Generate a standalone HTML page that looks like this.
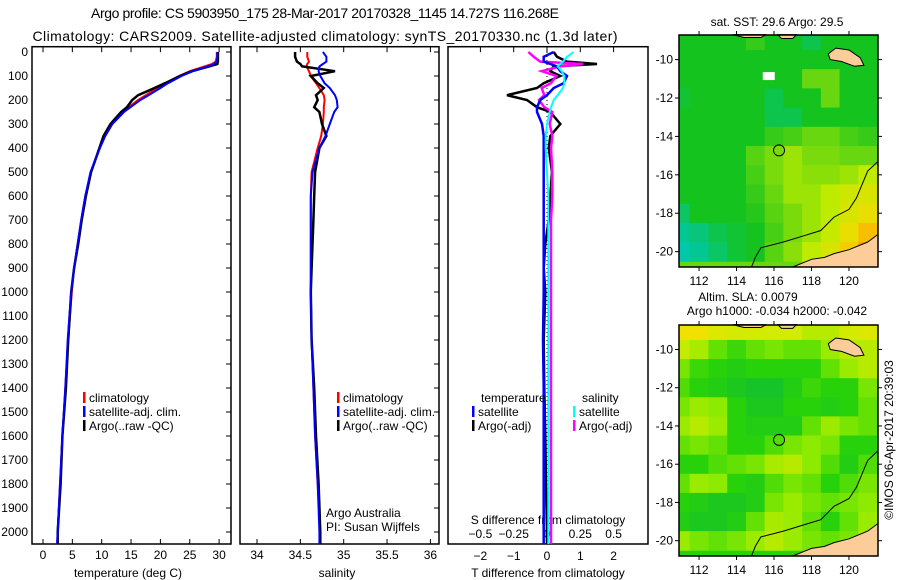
<!DOCTYPE html>
<html><head><meta charset="utf-8">
<style>
html,body{margin:0;padding:0;background:#fff;}
svg{display:block;font-family:"Liberation Sans",sans-serif;}
text{fill:#000;}
</style></head>
<body>
<svg id="fig" width="900" height="580" viewBox="0 0 900 580" xmlns="http://www.w3.org/2000/svg">
<text x="325" y="18" font-size="14" text-anchor="middle" textLength="468">Argo profile: CS 5903950_175 28-Mar-2017 20170328_1145 14.727S 116.268E</text>
<text x="325" y="41" font-size="14" text-anchor="middle" textLength="585">Climatology: CARS2009. Satellite-adjusted climatology: synTS_20170330.nc (1.3d later)</text>
<g id="g1"></g>
<g id="g2"></g>
<g id="g3"></g>
<g id="m1"></g>
<g id="m2"></g>
<text x="0" y="0" font-size="12" text-anchor="middle" transform="translate(893,440) rotate(-90)">©IMOS 06-Apr-2017 20:39:03</text>
</svg>
<script>
// ---- profile data ----
const depths = [0,20,40,50,60,80,100,130,150,180,200,230,250,300,350,400,500,600,700,800,900,1000,1200,1400,1600,1800,2000,2050];
const tempClim = [29.6,29.6,29.4,28.8,27.5,25,23.2,21,19.5,17.5,16.2,14.6,13.6,11.8,10.6,9.7,8.2,7.2,6.5,5.9,5.3,4.9,4.3,3.8,3.3,2.9,2.5,2.4];
const tempSat  = [29.7,29.7,29.6,29.2,28,25.5,23.6,21.3,20,18,16.6,14.9,13.8,11.8,10.6,9.7,8.1,7.2,6.5,5.9,5.3,4.8,4.2,3.8,3.3,2.9,2.5,2.4];
const tempArgo = [29.8,29.8,29.8,29.7,28.3,25.4,23.3,20.8,19,16.2,15.2,14.3,13.3,11.5,10.3,9.6,8.2,7.3,6.6,6.0,5.3,4.8,4.3,3.9,3.3,3.0,2.5,2.5];
const salClim = [34.58,34.58,34.6,34.58,34.57,34.6,34.62,34.68,34.72,34.77,34.78,34.77,34.77,34.76,34.74,34.70,34.63,34.62,34.62,34.62,34.62,34.62,34.63,34.65,34.67,34.7,34.73,34.73];
const salSat  = [34.76,34.8,34.8,34.76,34.72,34.71,34.73,34.78,34.84,34.9,34.92,34.93,34.89,34.84,34.79,34.72,34.64,34.62,34.62,34.62,34.62,34.62,34.63,34.65,34.67,34.7,34.72,34.72];
const salArgo = [34.44,34.44,34.46,34.5,34.52,34.9,34.62,34.7,34.77,34.68,34.7,34.66,34.72,34.75,34.8,34.72,34.67,34.66,34.65,34.64,34.63,34.62,34.63,34.66,34.68,34.71,34.73,34.73];
const tDiffSat  = [0.2,-0.1,-0.1,0.1,0.3,0.4,0.6,0.5,0.2,0,-0.2,-0.3,-0.3,-0.15,-0.1,-0.1,-0.1,-0.1,-0.1,-0.1,-0.1,-0.1,-0.12,-0.1,-0.1,-0.1,-0.1,-0.1];
const tDiffArgo = [0.2,0.3,0.6,1.5,0.2,0.1,0.4,-0.1,-0.3,-1.2,-0.6,-0.3,0.1,0.4,0.1,0.05,0.15,0.1,0.05,-0.05,-0.1,-0.05,-0.1,-0.08,-0.05,-0.03,0,0];
const sDiffSat  = [0.2,0.15,0.12,0.1,0.08,0.11,0.13,0.13,0.12,0.08,0.05,0.03,0.02,0,-0.01,-0.01,0.0,0.01,0.01,0.01,0.01,0.01,0.01,0.01,0.01,0.01,0.01,0.01];
const sDiffArgo = [-0.14,-0.1,-0.05,0.27,0.1,-0.04,0.07,0.03,-0.04,-0.02,-0.06,-0.02,0.04,0.02,0.04,0.03,0.04,0.04,0.03,0.03,0.03,0.03,0.03,0.03,0.03,0.03,0.03,0.03];
const depthTicks = [0,100,200,300,400,500,600,700,800,900,1000,1100,1200,1300,1400,1500,1600,1700,1800,1900,2000];
const tempTicks = [0,5,10,15,20,25,30];
const salTicks = [34,34.5,35,35.5,36];
const tdTicks = [-2,-1,0,1,2];
const sdTicks = [-0.5,-0.25,0,0.25,0.5];
// ---- map data (1-degree cells) ----
const mapLons = [111,112,113,114,115,116,117,118,119,120,121];
const mapLats = [-8.7,-9.5,-10.5,-11.5,-12.5,-13.5,-14.5,-15.5,-16.5,-17.5,-18.5,-19.5,-20.5];
const sstGrid = [
[1,1,1,1,1.2,1,1,0.8,1,1,1],
[1,1,1,1,1,1,1,1,1,1,1],
[1,1,1,1,1,1,1,1.5,1.5,1,1],
[0.9,1,1,1,1,0.8,1,1,1.5,1,1],
[1,1,1,1,1,0.8,0.8,1,1,1,1],
[1,1,1,1,1,1.2,1.3,1.5,1.5,1.3,1.2],
[1,1,1,1,1.4,1.6,1.8,1.6,1.6,1.5,1.5],
[1,1,1,1,1.3,1.6,1.8,1.7,1.7,1.8,2],
[1,1,1,1,1.2,1.5,1.8,1.8,2,2.2,2.3],
[0.7,1,1,1,1.1,1.4,1.6,1.8,2,2.3,2.5],
[0.5,0.6,0.8,0.9,1,1.3,1.6,1.8,2.1,2.5,2.8],
[0.4,0.5,0.7,0.9,1,1.4,1.7,2,2.3,2.7,3]];
const slaGrid = [
[2.8,2.8,2.6,2.5,2.5,2.5,2.5,2.3,2.3,2.5,2.6],
[2.4,2.2,1.8,1.6,1.8,1.9,1.8,1.8,2.1,2.3,2.3],
[1.9,1.6,1.5,1.4,1.5,1.5,1.5,1.5,1.8,2.1,2.3],
[1.7,1.5,1.4,1.3,1.2,1.2,1.4,1.6,1.5,1.5,1.9],
[1.9,2.1,2,1.5,1.3,1.3,1.5,1.5,1.4,1.5,1.8],
[2.1,2.3,2.1,1.5,1.4,1.4,1.4,1.8,2.1,1.9,1.8],
[1.8,1.9,1.8,1.5,1.5,1.7,1.9,2,1.9,1.5,1.5],
[1.5,1.5,1.7,1.8,1.9,2.2,2.3,2,1.7,1.4,1.7],
[1.8,2.1,2,1.5,1.4,1.7,1.9,1.8,1.5,1.7,1.9],
[1.5,1.4,1.3,1.3,1.4,1.9,2.1,1.9,1.8,1.9,2],
[1.4,1.3,1.3,1.4,1.8,2.2,2.1,1.8,1.5,1.8,2.1],
[2.1,1.9,1.8,1.9,2.1,2.3,2.1,1.9,1.8,1.9,2.3]];
const lonTicks = [112,114,116,118,120];
const latTicks = [-10,-12,-14,-16,-18,-20];
const argoPos = [116.268,-14.727];
const landAus = [[121.55,-19.1],[121,-19.5],[120,-19.9],[119.2,-20.1],[118.7,-20.3],[118,-20.4],[117.5,-20.6],[117,-20.8],[121.55,-20.8]];
const landSumba = [[118.9,-9.7],[119.3,-9.4],[120,-9.5],[120.6,-9.9],[120.8,-10.3],[120.3,-10.35],[119.6,-10.1],[119,-10.0]];
const landTop1 = [[113.8,-8.7],[115.6,-8.7],[115.3,-8.85],[114.4,-8.85]];
const landTop2 = [[116.2,-8.7],[117.2,-8.7],[117,-8.9],[116.4,-8.9]];
const contour = [[114.8,-20.8],[115,-20.3],[115.3,-19.8],[116.5,-19.5],[117.5,-19.2],[118.5,-18.9],[119.2,-18.2],[120,-17.8],[120.4,-17.2],[120.7,-16.5],[121,-15.8],[121.55,-15.3]];

const NS="http://www.w3.org/2000/svg";
function mk(parent,tag,attrs,txt){const e=document.createElementNS(NS,tag);for(const k in attrs)e.setAttribute(k,attrs[k]);if(txt!==undefined)e.textContent=txt;parent.appendChild(e);return e;}
const yD = d => 52 + d*0.24;

function axesBox(g,x0,x1,name){
  const r=mk(g,'rect',{x:x0,y:yD(-20)-0.5,width:x1-x0,height:yD(2050)-yD(-20)+0.5,fill:'none',stroke:'#000','stroke-width':1.5});
  
  
  depthTicks.forEach(d=>{mk(g,'line',{x1:x1-5,x2:x1,y1:yD(d),y2:yD(d),stroke:'#000'});});
}
function profile(g,xs,xf,color,name,w){
  const pts=depths.map((d,i)=>xf(xs[i]).toFixed(1)+','+yD(d).toFixed(1)).join(' ');
  const p=mk(g,'polyline',{points:pts,fill:'none',stroke:color,'stroke-width':w||2});
  
  
}
function legend(g,x,y,items){
  items.forEach((it,i)=>{
    mk(g,'rect',{x:x,y:y+i*14-6,width:2.5,height:11,fill:it[1]});
    const t=mk(g,'text',{x:x+6,y:y+i*14+4,'font-size':12},it[0]);
    
    
  });
}
// Panel 1 temperature
const g1=document.getElementById('g1');
const xT = t => 43 + t*5.87;
axesBox(g1,32,231,'temperature');
depthTicks.forEach(d=>{const t=mk(g1,'text',{x:28,y:yD(d)+4,'font-size':12,'text-anchor':'end'},String(d));
  
  });
tempTicks.forEach(v=>{mk(g1,'line',{x1:xT(v),x2:xT(v),y1:yD(-20),y2:yD(-20)+5,stroke:'#000'});
  mk(g1,'line',{x1:xT(v),x2:xT(v),y1:yD(2050),y2:yD(2050)-5,stroke:'#000'});
  const t=mk(g1,'text',{x:xT(v),y:559,'font-size':12,'text-anchor':'middle'},String(v));
  
  });
mk(g1,'text',{x:128,y:577,'font-size':12,'text-anchor':'middle'},'temperature (deg C)');
profile(g1,tempClim,xT,'#f00','temperature-climatology-line');
profile(g1,tempArgo,xT,'#000','temperature-argo-line',2.5);
profile(g1,tempSat,xT,'#00f','temperature-satellite-line');
legend(g1,83,398,[['climatology','#f00'],['satellite-adj. clim.','#00f'],['Argo(..raw -QC)','#000']]);
// Panel 2 salinity
const g2=document.getElementById('g2');
const xS = s => 257 + (s-34)*86.7;
axesBox(g2,240,439,'salinity');
salTicks.forEach(v=>{mk(g2,'line',{x1:xS(v),x2:xS(v),y1:yD(-20),y2:yD(-20)+5,stroke:'#000'});
  mk(g2,'line',{x1:xS(v),x2:xS(v),y1:yD(2050),y2:yD(2050)-5,stroke:'#000'});
  const t=mk(g2,'text',{x:xS(v),y:559,'font-size':12,'text-anchor':'middle'},String(v));
  
  });
mk(g2,'text',{x:337,y:577,'font-size':12,'text-anchor':'middle'},'salinity');
profile(g2,salClim,xS,'#f00','salinity-climatology-line');
profile(g2,salArgo,xS,'#000','salinity-argo-line',2.5);
profile(g2,salSat,xS,'#00f','salinity-satellite-line');
legend(g2,337,398,[['climatology','#f00'],['satellite-adj. clim.','#00f'],['Argo(..raw -QC)','#000']]);
mk(g2,'text',{x:326,y:517,'font-size':12},'Argo Australia');
mk(g2,'text',{x:326,y:531,'font-size':12},'PI: Susan Wijffels');
// Panel 3 differences
const g3=document.getElementById('g3');
const xTD = v => 547 + v*33.3;
const xSD = v => 547 + v*133.2;
const r3=mk(g3,'rect',{x:448,y:yD(-20)-0.5,width:200,height:yD(2050)-yD(-20)+0.5,fill:'none',stroke:'#000','stroke-width':1.5});


tdTicks.forEach(v=>{mk(g3,'line',{x1:xTD(v),x2:xTD(v),y1:yD(-20),y2:yD(-20)+5,stroke:'#000'});
  const t=mk(g3,'text',{x:xTD(v),y:560,'font-size':12,'text-anchor':'middle'},v<0?'\u2212'+(-v):String(v));
  
  });
sdTicks.forEach(v=>{const t=mk(g3,'text',{x:xSD(v),y:538,'font-size':12,'text-anchor':'middle'},v<0?'\u2212'+(-v):String(v));
  
  });
mk(g3,'text',{x:548,y:524,'font-size':12,'text-anchor':'middle'},'S difference from climatology');
mk(g3,'text',{x:548,y:577,'font-size':12,'text-anchor':'middle'},'T difference from climatology');
mk(g3,'line',{x1:547,x2:547,y1:yD(0),y2:yD(2050),stroke:'#000','stroke-dasharray':'1,3'});
profile(g3,tDiffArgo,xTD,'#000','t-diff-argo-line',2.5);
profile(g3,sDiffArgo,xSD,'#f0f','s-diff-argo-line',2.5);
profile(g3,tDiffSat,xTD,'#00f','t-diff-satellite-line',2.5);
profile(g3,sDiffSat,xSD,'#0ff','s-diff-satellite-line',2);
mk(g3,'text',{x:481,y:402,'font-size':12},'temperature');
mk(g3,'text',{x:582,y:402,'font-size':12},'salinity');
legend(g3,472,412,[['satellite','#00f'],['Argo(-adj)','#000']]);
legend(g3,573,412,[['satellite','#0ff'],['Argo(-adj)','#f0f']]);
// Maps
function colSST(v){const stops=[[0.4,[0,200,170]],[1,[20,195,30]],[2,[190,235,0]],[2.6,[240,220,0]],[3,[255,160,0]]];return interpC(stops,v);}
function colSLA(v){const stops=[[1,[10,185,60]],[1.5,[40,210,10]],[2,[140,235,0]],[2.5,[210,235,0]],[2.8,[240,225,0]]];return interpC(stops,v);}
function interpC(stops,v){if(v<=stops[0][0])return 'rgb('+stops[0][1]+')';for(let i=1;i<stops.length;i++){if(v<=stops[i][0]){const a=stops[i-1],b=stops[i];const f=(v-a[0])/(b[0]-a[0]);return 'rgb('+a[1].map((c,j)=>Math.round(c+(b[1][j]-c)*f)).join(',')+')';}}return 'rgb('+stops[stops.length-1][1]+')';}
function drawMap(id,top,bottom,grid,colf,name){
  const g=document.getElementById(id);
  const L=679,R=878,lon0=110.93,lon1=121.55,lat0=-8.72,lat1=-20.8;
  const px=lo=>L+(lo-lon0)/(lon1-lon0)*(R-L);
  const py=la=>top+(la-lat0)/(lat1-lat0)*(bottom-top);
  mk(g,'rect',{x:L,y:top,width:R-L,height:bottom-top,fill:colf(1.5)});
  grid.forEach((row,ri)=>row.forEach((v,ci)=>{
    const x0=Math.max(L,px(mapLons[ci]-0.5)),x1=Math.min(R,px(mapLons[ci]+0.5));
    const y0=py(mapLats[ri]),y1=py(mapLats[ri+1]);
    const c=mk(g,'rect',{x:x0,y:y0,width:Math.max(0,x1-x0)+0.5,height:y1-y0+0.5,fill:colf(v)});
    
    
  }));
  const poly=(pts,fill,stroke)=>mk(g,'polygon',{points:pts.map(p=>px(p[0]).toFixed(1)+','+py(p[1]).toFixed(1)).join(' '),fill:fill,stroke:stroke,'stroke-width':1});
  [landAus,landSumba,landTop1,landTop2].forEach(l=>{const p=poly(l,'#fccc99','#000');});
  mk(g,'polyline',{points:contour.map(p=>px(p[0]).toFixed(1)+','+py(p[1]).toFixed(1)).join(' '),fill:'none',stroke:'#000','stroke-width':1});
  const m=mk(g,'circle',{cx:px(argoPos[0]),cy:py(argoPos[1]),r:5.5,fill:'none',stroke:'#000','stroke-width':1});
  
  
  mk(g,'rect',{x:L,y:top,width:R-L,height:bottom-top,fill:'none',stroke:'#000','stroke-width':1.5});
  lonTicks.forEach(v=>{mk(g,'line',{x1:px(v),x2:px(v),y1:top-4,y2:top,stroke:'#000'});mk(g,'line',{x1:px(v),x2:px(v),y1:bottom,y2:bottom+4,stroke:'#000'});
    const t=mk(g,'text',{x:px(v),y:bottom+18,'font-size':12,'text-anchor':'middle'},String(v));
    
    });
  latTicks.forEach(v=>{mk(g,'line',{x1:L-4,x2:L,y1:py(v),y2:py(v),stroke:'#000'});mk(g,'line',{x1:R,x2:R+4,y1:py(v),y2:py(v),stroke:'#000'});
    const t=mk(g,'text',{x:L-6,y:py(v)+4,'font-size':12,'text-anchor':'end'},'-'+(-v));
    
    });
  return {px,py,g};
}
const M1=drawMap('m1',35,267,sstGrid,colSST,'sst');
mk(M1.g,'rect',{x:M1.px(115.4),y:M1.py(-10.65),width:12,height:8,fill:'#fff'});
mk(M1.g,'text',{x:777,y:26,'font-size':12,'text-anchor':'middle'},'sat. SST: 29.6 Argo: 29.5');
const M2=drawMap('m2',325,556,slaGrid,colSLA,'sla');
mk(M2.g,'text',{x:748,y:301,'font-size':12,'text-anchor':'middle'},'Altim. SLA: 0.0079');
mk(M2.g,'text',{x:777,y:315,'font-size':12,'text-anchor':'middle'},'Argo h1000: -0.034 h2000: -0.042');
</script>
</body></html>
